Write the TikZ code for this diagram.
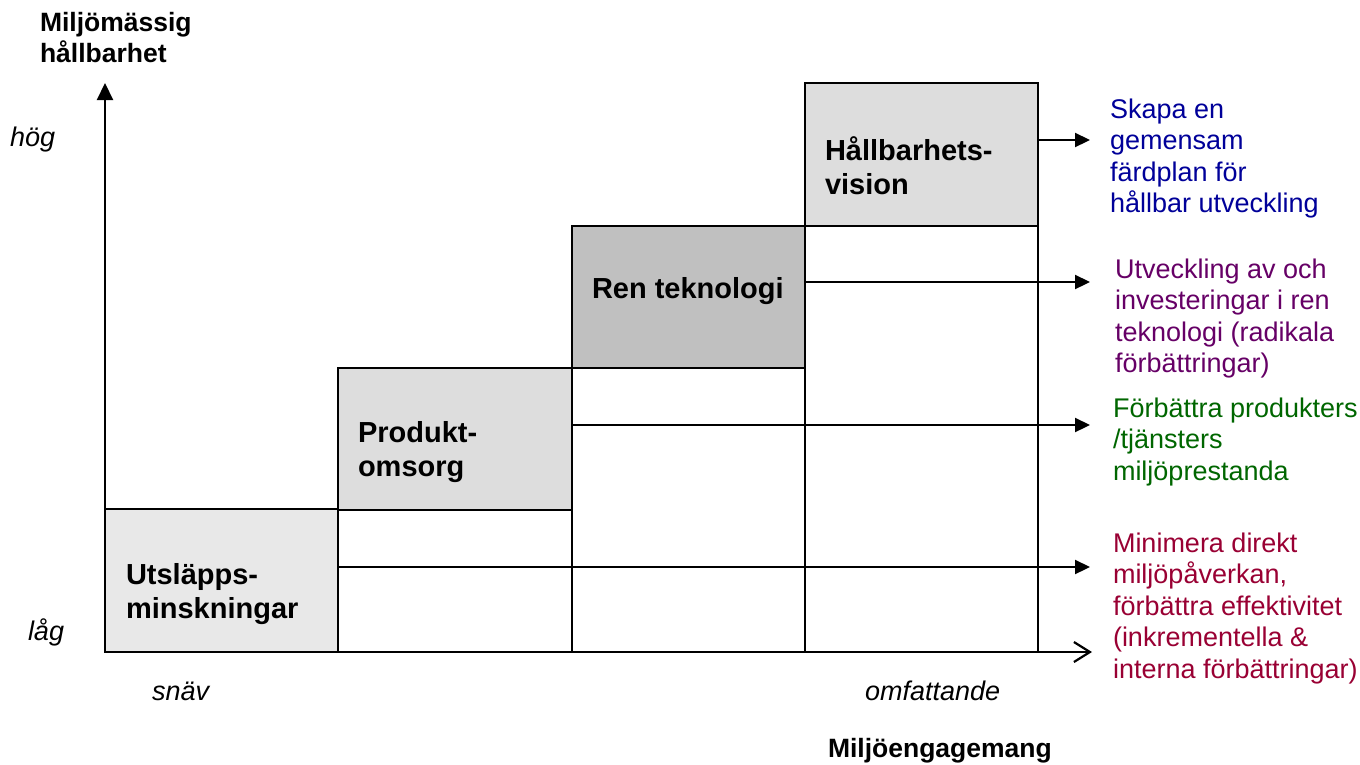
\documentclass[tikz,border=0pt]{standalone}
\usepackage{fontspec}
\setmainfont{Liberation Sans}
\usetikzlibrary{arrows.meta}
\definecolor{cblue}{HTML}{000099}
\definecolor{cpurple}{HTML}{660066}
\definecolor{cgreen}{HTML}{006600}
\definecolor{cred}{HTML}{990033}
\definecolor{gA}{HTML}{E8E8E8}
\definecolor{gB}{HTML}{DDDDDD}
\definecolor{gC}{HTML}{C0C0C0}
\newcommand\firstln{\rule{0pt}{1em}}
\begin{document}
\begin{tikzpicture}[x=1pt,y=-1pt,
  box/.style={draw=black, line width=2pt, inner sep=0pt, outer sep=0pt, anchor=north west},
  lbl/.style={inner sep=0pt, outer sep=0pt, anchor=north west, align=left},
  rtext/.style={lbl, font=\fontsize{27}{31.5}\selectfont},
  boxlbl/.style={lbl, font=\bfseries\fontsize{29}{34}\selectfont},
  axtitle/.style={lbl, font=\bfseries\fontsize{26.5}{31}\selectfont},
  axval/.style={lbl, font=\itshape\fontsize{27}{31}\selectfont},
  arr/.style={line width=2.2pt, -{Triangle[length=15pt,width=14pt]}},
  axis/.style={line width=2.2pt}]
\useasboundingbox (0,0) rectangle (1360,764);
% white lower cells
\node[box, fill=white, minimum width=234pt, minimum height=142pt] (w2) at (338,510) {};
\node[box, fill=white, minimum width=233pt, minimum height=284pt] (w3) at (572,368) {};
\node[box, fill=white, minimum width=233pt, minimum height=426pt] (w4) at (805,226) {};
% shaded steps
\node[box, fill=gA, minimum width=233pt, minimum height=143pt] (b1) at (105,509) {};
\node[box, fill=gB, minimum width=234pt, minimum height=142pt] (b2) at (338,368) {};
\node[box, fill=gC, minimum width=233pt, minimum height=142pt] (b3) at (572,226) {};
\node[box, fill=gB, minimum width=233pt, minimum height=143pt] (b4) at (805,83) {};
% box labels
\node[boxlbl] (l1) at (126,555) {\firstln Utsläpps-\\minskningar};
\node[boxlbl] (l2) at (358,413) {\firstln Produkt-\\omsorg};
\node[boxlbl] (l3) at (592,269) {\firstln Ren teknologi};
\node[boxlbl] (l4) at (825,131) {\firstln Hållbarhets-\\vision};
% arrow coordinates
\coordinate (O) at (105,652);
\coordinate (ytip) at (105,83);
\coordinate (xtip) at (1092,652);
\coordinate (r1) at (1038,140);
\coordinate (r2) at (805,282);
\coordinate (r3) at (572,425);
\coordinate (r4) at (338,567);
\coordinate (e) at (1090,0);
\draw[arr] (r1) -- (r1 -| e);
\draw[arr] (r2) -- (r2 -| e);
\draw[arr] (r3) -- (r3 -| e);
\draw[arr] (r4) -- (r4 -| e);
% axes
\draw[axis, -{Triangle[length=17pt,width=16pt]}] (O) -- (ytip);
\draw[axis, -{Straight Barb[length=16pt,width=20pt]}] (O) -- (xtip);
% axis texts
\node[axtitle] (yt) at (40,4.5) {\firstln Miljömässig\\hållbarhet};
\node[axtitle] (xt) at (828,730.5) {\firstln Miljöengagemang};
\node[axval] (hi) at (10,119) {\firstln hög};
\node[axval] (lo) at (28,613) {\firstln låg};
\node[axval] (na) at (152,673) {\firstln snäv};
\node[axval] (wi) at (865,673) {\firstln omfattande};
% right-hand texts
\node[rtext, text=cblue] (t1) at (1110,91) {\firstln Skapa en\\gemensam\\färdplan för\\hållbar utveckling};
\node[rtext, text=cpurple] (t2) at (1115,251) {\firstln Utveckling av och\\investeringar i ren\\teknologi (radikala\\förbättringar)};
\node[rtext, text=cgreen] (t3) at (1113,390) {\firstln Förbättra produkters\\/tjänsters\\miljöprestanda};
\node[rtext, text=cred] (t4) at (1113,525) {\firstln Minimera direkt\\miljöpåverkan,\\förbättra effektivitet\\(inkrementella \&\\interna förbättringar)};
\end{tikzpicture}
\end{document}
